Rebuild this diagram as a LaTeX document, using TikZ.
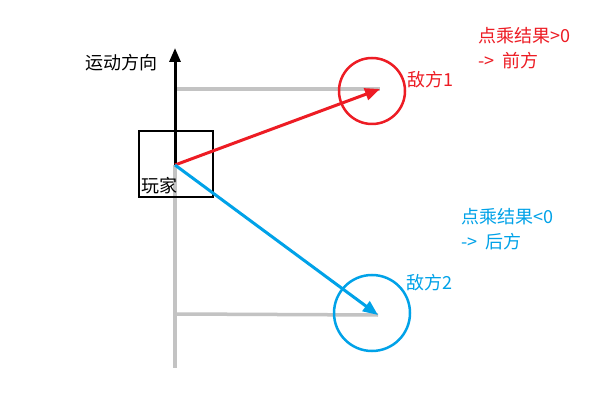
\documentclass[tikz,border=0pt]{standalone}
\usepackage{fontspec}
\setmainfont{Noto Sans CJK SC}
\usetikzlibrary{arrows.meta}
\definecolor{myred}{HTML}{ED1C24}
\definecolor{myblue}{HTML}{00A2E8}
\definecolor{mygray}{HTML}{C3C3C3}
\begin{document}
\begin{tikzpicture}[x=1pt,y=-1pt,
  lbl/.style={font=\fontsize{18}{25}\selectfont,inner sep=0pt,anchor=west},
  grayline/.style={draw=mygray,line width=3.5pt},
  vec/.style={line width=3pt,-{Triangle[length=15pt,width=12pt]}},
  ring/.style={circle,draw,line width=2.5pt,inner sep=0pt}]
\useasboundingbox[fill=white] (0,0) rectangle (615,403);
% coordinates
\coordinate (P) at (175,165);
\coordinate (E1) at (380,89);
\coordinate (E2) at (378,315);
\coordinate (T1) at (177,89);
\coordinate (T2) at (177,314);
\coordinate (B) at (175,368);
\coordinate (U) at (175,48);
% gray projection lines
\draw[grayline] (T1) -- (E1);
\draw[grayline] (T2) -- (E2);
\draw[grayline] (P) -- (B);
% circles
\node[ring,draw=myred,minimum size=66pt] (C1) at (372,91) {};
\node[ring,draw=myblue,minimum size=76pt] (C2) at (372,313) {};
% player box
\node[draw,line width=2.5pt,minimum width=74pt,minimum height=66pt,inner sep=0pt] (box) at (176,164) {};
% motion arrow
\draw[line width=3pt,-{Triangle[length=14pt,width=11pt]}] (P) -- (U);
% vectors
\draw[vec,myred] (P) -- (E1);
\draw[vec,myblue] (P) -- (E2);
% labels
\node[lbl] (mv) at (85,63) {运动方向};
\node[lbl] (pl) at (141,186) {玩家};
\node[lbl,text=myred] (n1) at (407,80) {敌方1};
\node[lbl,text=myblue] (n2) at (406,283) {敌方2};
\node[lbl,text=myred,align=left] (r1) at (478,48) {点乘结果>0\\->\ \ 前方};
\node[lbl,text=myblue,align=left] (r2) at (461,229) {点乘结果<0\\->\ \ 后方};
\end{tikzpicture}
\end{document}
